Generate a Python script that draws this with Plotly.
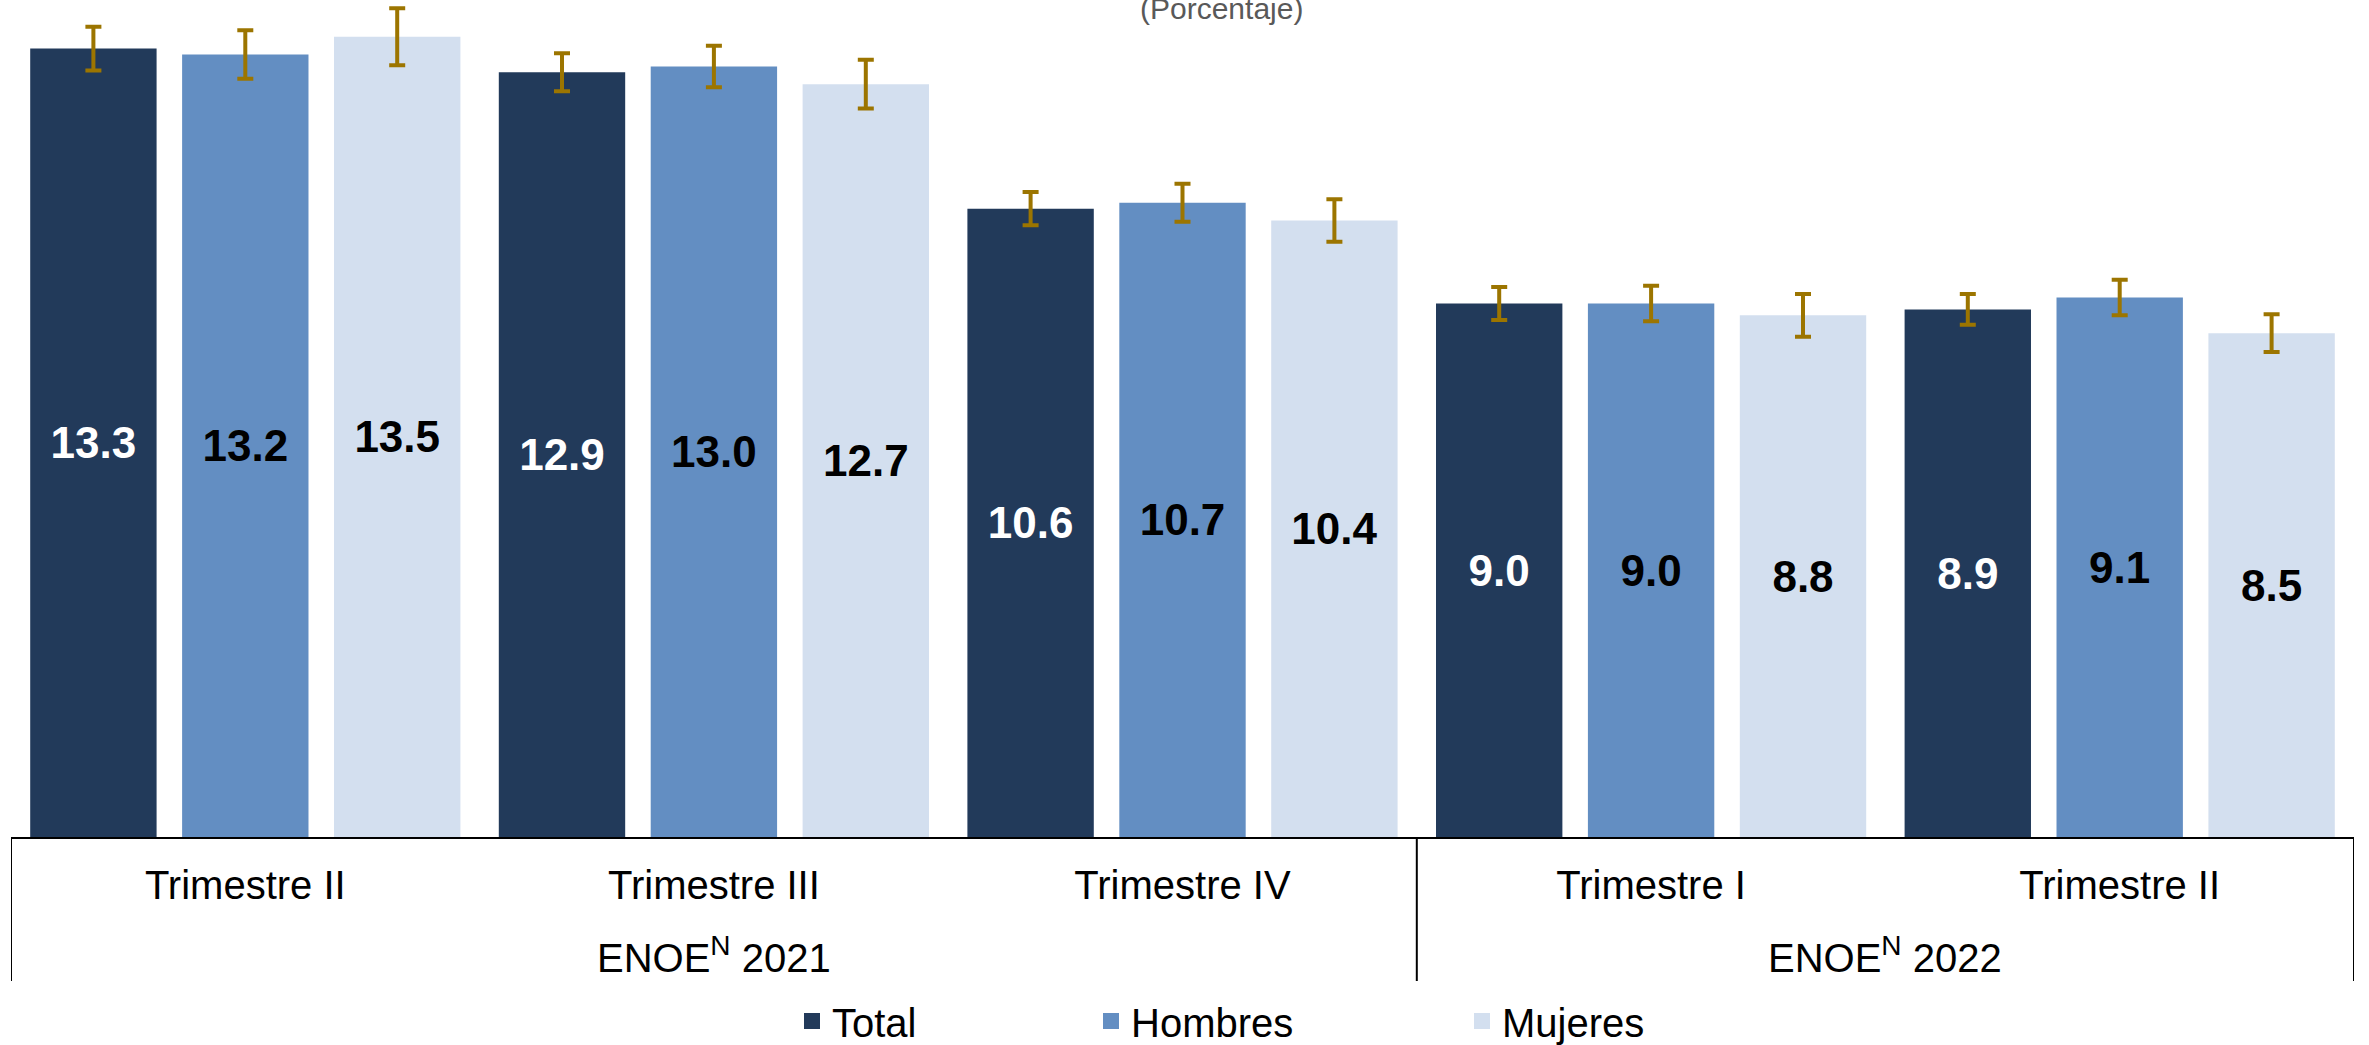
import plotly.graph_objects as go

# ---- data ----
positions = [0, 1, 2, 3, 4]
inner_labels = ["Trimestre II", "Trimestre III", "Trimestre IV", "Trimestre I", "Trimestre II"]
outer_labels = ["ENOE<sup>N</sup> 2021", "ENOE<sup>N</sup> 2022"]
outer_centers = [1, 3.5]
outer_bounds = [-0.5, 2.5, 4.5]
series_names = ["Total", "Hombres", "Mujeres"]
total = [13.3, 12.9, 10.6, 9.0, 8.9]
hombres = [13.2, 13.0, 10.7, 9.0, 9.1]
mujeres = [13.5, 12.7, 10.4, 8.8, 8.5]
err_total = [0.37, 0.32, 0.28, 0.28, 0.26]
err_hombres = [0.41, 0.35, 0.32, 0.30, 0.30]
err_mujeres = [0.48, 0.41, 0.36, 0.36, 0.32]
subtitle = "(Porcentaje)"

# ---- styles ----
colors = ["#223A5A", "#638EC2", "#D3DFEF"]
label_colors = ["white", "black", "black"]
err_color = "#9C7500"
FONT = "Liberation Sans, Arial, sans-serif"

W, H = 2369, 1045
ml, mr, mt, mb = 11, 15, 0, 208
plot_h = H - mt - mb
plot_w = W - ml - mr

def py(px_from_top):
    return (plot_h - (px_from_top - mt)) / plot_h

def px_(x):
    return (x - ml) / plot_w

fig = go.Figure()
values = [total, hombres, mujeres]
errors = [err_total, err_hombres, err_mujeres]
legend_ids = ["legend", "legend2", "legend3"]
for name, vals, errs, col, lcol in zip(series_names, values, errors, colors, label_colors):
    fig.add_trace(go.Bar(
        x=positions,
        y=vals,
        name=name,
        marker=dict(color=col, line=dict(width=0)),
        error_y=dict(type="data", array=errs, visible=True, color=err_color,
                     thickness=4, width=8),
        texttemplate="%{y:.1f}",
        textposition="inside",
        insidetextanchor="middle",
        textangle=0,
        constraintext="none",
        textfont=dict(family=FONT, size=44, color=lcol, weight="bold"),
        showlegend=False,
    ))

# legend entries (square swatches)
for name, col, lid in zip(series_names, colors, legend_ids):
    fig.add_trace(go.Scatter(
        x=[None], y=[None], mode="markers", name=name,
        marker=dict(symbol="square", size=17, color=col),
        legend=lid, showlegend=True, hoverinfo="skip",
    ))

# group dividers below the axis
for b in outer_bounds:
    fig.add_shape(type="line", xref="x", yref="paper", x0=b, x1=b,
                  y0=0, y1=py(981), line=dict(color="black", width=2))

annotations = [dict(
    text=subtitle, xref="paper", yref="paper",
    x=px_(1221), y=py(27), xanchor="center", yanchor="bottom",
    showarrow=False, font=dict(family=FONT, size=30, color="#595959"),
)]
for lab, c in zip(outer_labels, outer_centers):
    annotations.append(dict(
        text=lab, xref="x", yref="paper", x=c, y=py(955),
        xanchor="center", yanchor="middle", showarrow=False,
        font=dict(family=FONT, size=40, color="black"),
    ))

legend_common = dict(orientation="h", yanchor="middle", xanchor="left",
                     font=dict(family=FONT, size=40, color="black"),
                     bgcolor="rgba(0,0,0,0)", borderwidth=0, visible=True,
                     itemsizing="trace")

fig.update_layout(
    width=W, height=H,
    margin=dict(l=ml, r=mr, t=mt, b=mb, autoexpand=False),
    paper_bgcolor="white", plot_bgcolor="white",
    barmode="group", bargap=0.0275, bargroupgap=0.168,
    font=dict(family=FONT, color="black"),
    showlegend=True,
    xaxis=dict(
        type="linear", range=[-0.5, 4.5],
        tickmode="array", tickvals=positions, ticktext=inner_labels,
        showline=True, linecolor="black", linewidth=2,
        ticks="outside", ticklen=12, tickcolor="rgba(0,0,0,0)",
        tickfont=dict(family=FONT, size=40, color="black"),
        showgrid=False, zeroline=False, automargin=False,
    ),
    yaxis=dict(range=[0, 14.12], visible=False, showgrid=False, zeroline=False,
               automargin=False),
    legend=dict(x=px_(792), y=py(1021), **legend_common),
    legend2=dict(x=px_(1091), y=py(1021), **legend_common),
    legend3=dict(x=px_(1462), y=py(1021), **legend_common),
    annotations=annotations,
)

fig.write_html("out.html",
               config={"displayModeBar": False},
               post_script="document.body.style.margin='0';document.body.style.overflow='hidden';")
